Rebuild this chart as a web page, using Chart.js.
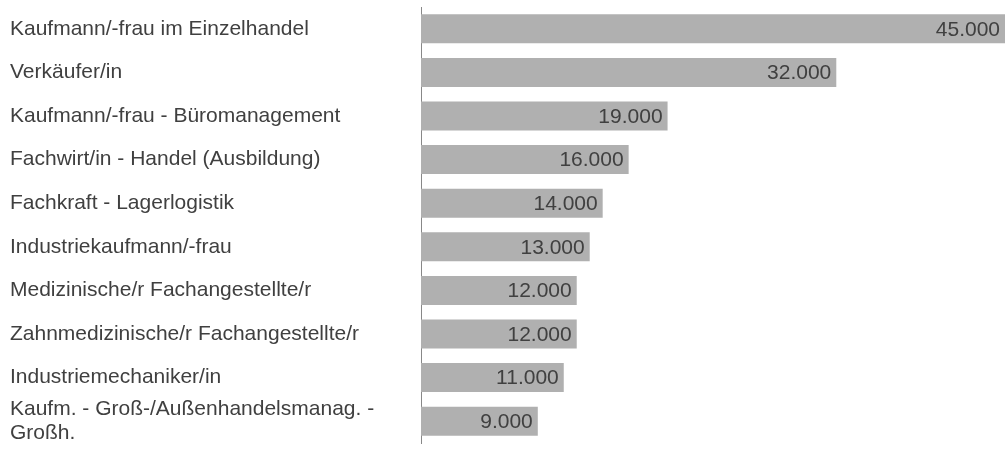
<!DOCTYPE html>
<html lang="de">
<head>
    <meta charset="UTF-8">
    <title>Ausbildungsberufe</title>
    <style>
        html, body { margin: 0; padding: 0; background: #fff; }
        .chart-container { width: 1005px; height: 450px; }
    </style>
</head>
<body>
<div class="chart-container">
    <canvas id="berufeChart"></canvas>
</div>

<script src="https://cdn.jsdelivr.net/npm/chart.js"></script>
<script>
// Ausbildungsberufe und Anzahl
const berufe = [
    'Kaufmann/-frau im Einzelhandel',
    'Verkäufer/in',
    'Kaufmann/-frau - Büromanagement',
    'Fachwirt/in - Handel (Ausbildung)',
    'Fachkraft - Lagerlogistik',
    'Industriekaufmann/-frau',
    'Medizinische/r Fachangestellte/r',
    'Zahnmedizinische/r Fachangestellte/r',
    'Industriemechaniker/in',
    ['Kaufm. - Groß-/Außenhandelsmanag. -', 'Großh.']
];
const anzahl = [45000, 32000, 19000, 16000, 14000, 13000, 12000, 12000, 11000, 9000];

const textColor = '#404040';
const fontFamily = '"Liberation Sans", Arial, sans-serif';
const fontSize = 21;

// Werte rechtsbündig in den Balken schreiben
const valueLabels = {
    id: 'valueLabels',
    afterDatasetsDraw(chart) {
        const ctx = chart.ctx;
        const meta = chart.getDatasetMeta(0);
        ctx.save();
        ctx.font = fontSize + 'px ' + fontFamily;
        ctx.fillStyle = textColor;
        ctx.textAlign = 'right';
        ctx.textBaseline = 'middle';
        meta.data.forEach((bar, i) => {
            const txt = anzahl[i].toLocaleString('de-DE');
            ctx.fillText(txt, bar.x - 5, bar.y + 1);
        });
        ctx.restore();
    }
};

new Chart(document.getElementById('berufeChart').getContext('2d'), {
    type: 'bar',
    data: {
        labels: berufe,
        datasets: [{
            data: anzahl,
            backgroundColor: '#b0b0b0',
            barPercentage: 0.665,
            categoryPercentage: 1.0
        }]
    },
    options: {
        indexAxis: 'y',
        responsive: true,
        maintainAspectRatio: false,
        animation: false,
        layout: { padding: { left: 10, right: 0, top: 7, bottom: 7 } },
        plugins: {
            legend: { display: false },
            tooltip: { enabled: false }
        },
        scales: {
            x: {
                display: false,
                min: 0,
                max: 45000
            },
            y: {
                afterFit: (scale) => {
                    scale.width = 411;
                    scale.paddingTop = 0;
                    scale.paddingBottom = 0;
                },
                grid: { display: false, drawTicks: false },
                border: { display: true, color: '#888888', width: 1 },
                ticks: {
                    autoSkip: false,
                    crossAlign: 'far',
                    padding: 0,
                    color: textColor,
                    font: { family: fontFamily, size: fontSize, lineHeight: 1.1 }
                }
            }
        }
    },
    plugins: [valueLabels]
});
</script>
</body>
</html>
